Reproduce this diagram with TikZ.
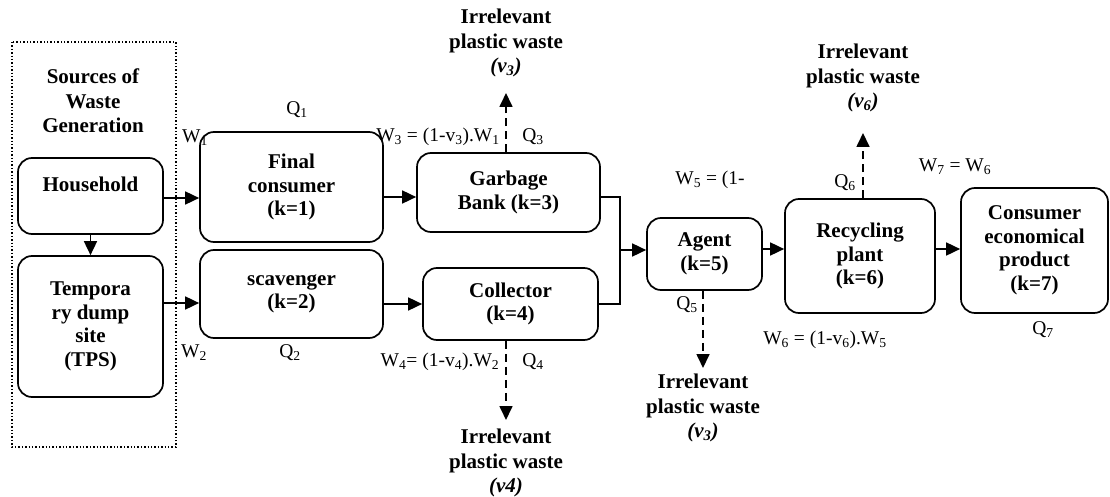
\documentclass[tikz,border=0pt]{standalone}
\usepackage{fontspec}
\setmainfont{Liberation Serif}
\usetikzlibrary{arrows.meta}

\begin{document}
\begin{tikzpicture}
          [x = 1pt, y = -1pt, >= {Triangle[length=14pt, width=13pt]},
           box/.style = {draw, line width = 1.7pt, rounded corners = 14pt, align = center,
                         inner sep = 0pt, font = \fontsize{21}{23.5}\selectfont\bfseries},
           waste/.style = {align = center, inner sep = 0pt, font = \fontsize{21}{24.5}\selectfont\bfseries},
           lbl/.style = {inner sep = 0pt, font = \fontsize{19.5}{22}\selectfont},
           flow/.style = {->, line width = 1.7pt},
           loss/.style = {->, line width = 1.7pt, dash pattern = on 8pt off 5pt}]
          \useasboundingbox (0,0) rectangle (1110,497);
          % sources
          \draw[dotted, line width = 1.4pt] (12,42) rectangle (176,447);
          \node[waste] (sources) at (93,101) {Sources of\\Waste\\Generation};
          \node[box, minimum width = 145pt, minimum height = 76pt] (household) at (90.5,196) {Household\\\mbox{}};
          \node[box, minimum width = 145pt, minimum height = 141pt] (tps) at (90.5,326.5) {Tempora\\ry dump\\site\\(TPS)};
          % actors
          \node[box, minimum width = 183pt, minimum height = 110pt] (final) at (291.5,187) {Final\\consumer\\(k=1)};
          \node[box, minimum width = 183pt, minimum height = 88pt] (scav) at (291.5,294) {scavenger\\(k=2)};
          \node[box, minimum width = 183pt, minimum height = 79pt] (garbage) at (508.5,192.5) {Garbage\\Bank (k=3)};
          \node[box, minimum width = 175pt, minimum height = 72pt] (collector) at (510.5,304) {Collector\\(k=4)};
          \node[box, minimum width = 115pt, minimum height = 72pt] (agent) at (704.5,254) {Agent\\(k=5)};
          \node[box, minimum width = 150pt, minimum height = 114pt] (recyc) at (860,256) {Recycling\\plant\\(k=6)};
          \node[box, minimum width = 147pt, minimum height = 125pt] (consumer) at (1034.5,250.5) {Consumer\\economical\\product\\(k=7)};
          % flows
          \draw[flow] (household.south) -- (tps.north);
          \draw[flow] (household.east |- 0,198) -- (final.west |- 0,198);
          \draw[flow] (tps.east |- 0,303) -- (scav.west |- 0,303);
          \draw[flow] (final.east |- 0,197) -- (garbage.west |- 0,197);
          \draw[flow] (scav.east |- collector.west) -- (collector.west);
          \coordinate (join) at (620,250);
          \draw[line width = 1.7pt] (garbage.east |- 0,197) -| (join) |- (collector.east);
          \draw[flow] (join) -- (join -| agent.west);
          \draw[flow] (agent.east |- 0,249) -- (recyc.west |- 0,249);
          \draw[flow] (recyc.east |- 0,249) -- (consumer.west |- 0,249);
          % losses
          \coordinate (up3) at (506,93);
          \coordinate (down4) at (506,420);
          \coordinate (down5) at (703,368);
          \coordinate (up6) at (863,133);
          \draw[loss] (garbage.north -| up3) -- (up3);
          \draw[loss] (collector.south -| down4) -- (down4);
          \draw[loss] (agent.south -| down5) -- (down5);
          \draw[loss] (recyc.north -| up6) -- (up6);
          \node[waste] (waste3) at (506,43) {Irrelevant\\plastic waste\\\textit{(v\textsubscript{3})}};
          \node[waste] (waste4) at (506,463) {Irrelevant\\plastic waste\\\textit{(v4)}};
          \node[waste] (waste5) at (703,408) {Irrelevant\\plastic waste\\\textit{(v\textsubscript{3})}};
          \node[waste] (waste6) at (863,78) {Irrelevant\\plastic waste\\\textit{(v\textsubscript{6})}};
          % quantities
          \node[lbl] (q1) at (297,110) {Q\textsubscript{1}};
          \node[lbl] (q2) at (290,353) {Q\textsubscript{2}};
          \node[lbl] (q3) at (533,137) {Q\textsubscript{3}};
          \node[lbl] (q4) at (533,362) {Q\textsubscript{4}};
          \node[lbl] (q5) at (687,305) {Q\textsubscript{5}};
          \node[lbl] (q6) at (845,183) {Q\textsubscript{6}};
          \node[lbl] (q7) at (1043,330) {Q\textsubscript{7}};
          \node[lbl] (w1) at (195,138) {W\textsubscript{1}};
          \node[lbl] (w2) at (194,353) {W\textsubscript{2}};
          \node[lbl] (w3) at (438,137) {W\textsubscript{3} = (1-v\textsubscript{3}).W\textsubscript{1}};
          \node[lbl] (w4) at (440,362) {W\textsubscript{4}= (1-v\textsubscript{4}).W\textsubscript{2}};
          \node[lbl] (w5) at (710,180) {W\textsubscript{5} = (1-};
          \node[lbl] (w6) at (825,340) {W\textsubscript{6} = (1-v\textsubscript{6}).W\textsubscript{5}};
          \node[lbl] (w7) at (955,167) {W\textsubscript{7} = W\textsubscript{6}};
        \end{tikzpicture}
\end{document}
